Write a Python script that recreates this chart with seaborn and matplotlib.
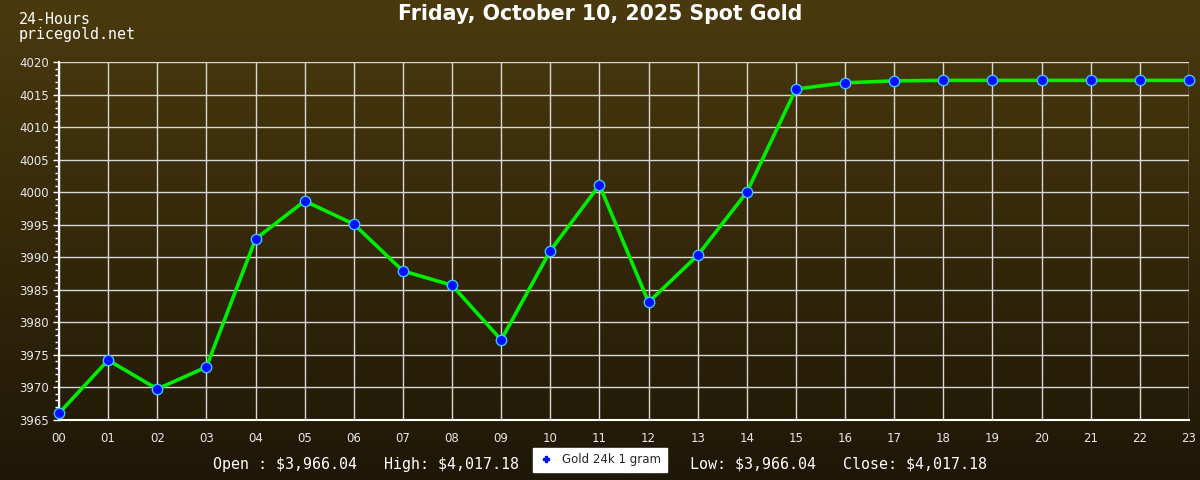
import numpy as np
import pandas as pd
import matplotlib
matplotlib.use('Agg')
import matplotlib.pyplot as plt
from matplotlib.colors import LinearSegmentedColormap
from matplotlib.lines import Line2D
import seaborn as sns

hours = ['00', '01', '02', '03', '04', '05', '06', '07', '08', '09', '10', '11',
         '12', '13', '14', '15', '16', '17', '18', '19', '20', '21', '22', '23']
prices = [3966.04, 3974.2, 3969.76, 3973.14, 3992.8, 3998.65, 3995.1, 3987.9,
          3985.7, 3977.3, 3991.0, 4001.1, 3983.1, 3990.3, 4000.0, 4015.85,
          4016.8, 4017.1, 4017.18, 4017.18, 4017.18, 4017.18, 4017.18, 4017.18]

title = 'Friday, October 10, 2025 Spot Gold'
stats_left = r'Open : \$3,966.04   High: \$4,017.18'
stats_right = r'Low: \$3,966.04   Close: \$4,017.18'
series_name = 'Gold 24k 1 gram'

df = pd.DataFrame({'hour': range(len(hours)), 'price': prices})

sns.set_style('dark')
plt.rcParams['font.family'] = ['DejaVu Sans']

fig = plt.figure(figsize=(12, 4.8), dpi=100)

# gradient background
bg = fig.add_axes([0, 0, 1, 1], zorder=-10)
cmap = LinearSegmentedColormap.from_list('bg', ['#1f1707', '#4b3a0e'])
bg.imshow(np.linspace(0, 1, 256).reshape(-1, 1), aspect='auto', cmap=cmap,
          origin='lower', extent=[0, 1, 0, 1])
bg.set_axis_off()

ax = fig.add_axes([59 / 1200, 1 - 420 / 480, 1130 / 1200, 358 / 480])
ax.set_facecolor('none')

sns.lineplot(data=df, x='hour', y='price', ax=ax, color='#00ee00', linewidth=2.6,
             marker='o', markersize=7.5,
             markerfacecolor='#0010ff', markeredgecolor='#40c0ff', markeredgewidth=1,
             clip_on=False, zorder=5)

ax.set_xlim(0, 23)
ax.set_ylim(3965, 4020)
ax.set_xticks(range(len(hours)))
ax.set_xticklabels(hours)
ax.set_yticks(np.arange(3965, 4021, 5))
ax.set_yticks(np.arange(3965, 4021, 1), minor=True)
ax.grid(True, which='major', color='#d8d8d8', linewidth=1)
ax.set_xlabel('')
ax.set_ylabel('')
for side in ['top', 'right']:
    ax.spines[side].set_visible(False)
for side in ['left', 'bottom']:
    ax.spines[side].set_visible(True)
    ax.spines[side].set_color('white')
    ax.spines[side].set_linewidth(1.5)
ax.tick_params(axis='both', which='major', colors='white', labelcolor='#e8e8e8',
               labelsize=8.5, length=4, width=1, left=True, bottom=False, pad=3)
ax.tick_params(axis='x', pad=5)
ax.tick_params(axis='y', which='minor', colors='white', length=3, width=1, left=True)

mono = ['DejaVu Sans Mono']
fig.text(0.5, 1 - 14 / 480, title, ha='center', va='center', color='white',
         fontsize=14.8, fontweight='bold')
fig.text(19 / 1200, 1 - 19 / 480, '24-Hours', ha='left', va='center', color='white',
         fontsize=10.8, family=mono)
fig.text(19 / 1200, 1 - 34 / 480, 'pricegold.net', ha='left', va='center', color='white',
         fontsize=10.8, family=mono)
fig.text(213 / 1200, 1 - 464 / 480, stats_left, ha='left', va='center', color='white',
         fontsize=10.8, family=mono)
fig.text(690 / 1200, 1 - 464 / 480, stats_right, ha='left', va='center', color='white',
         fontsize=10.8, family=mono)

handle = Line2D([], [], linestyle='none', marker='P', markersize=4, color='#0010ff')
leg = fig.legend([handle], [series_name], loc='center', bbox_to_anchor=(600 / 1200, 1 - 460 / 480),
                 frameon=True, fancybox=False, facecolor='white', edgecolor='white',
                 fontsize=8.5, handlelength=1.2, borderpad=0.45, framealpha=1)

fig.savefig('out.png', dpi=100)
plt.close(fig)
